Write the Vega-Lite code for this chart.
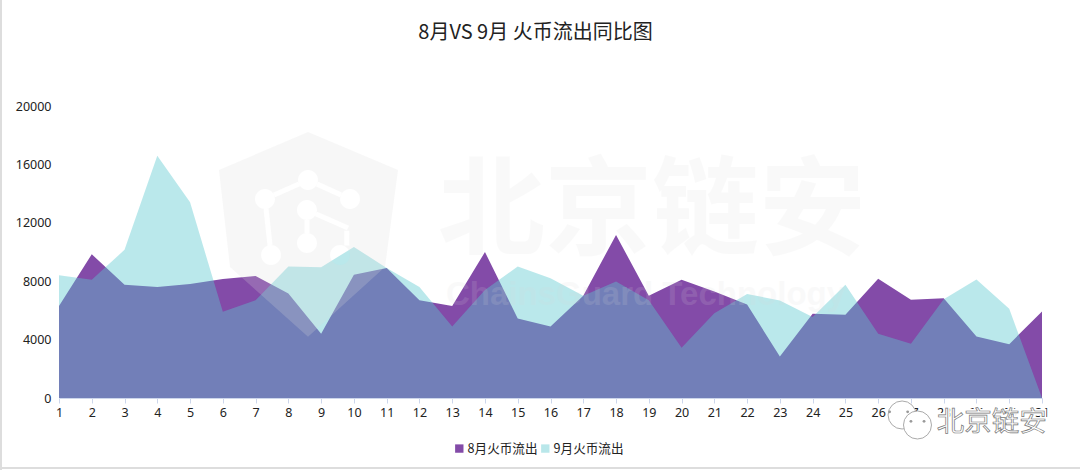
{
"$schema":"https://vega.github.io/schema/vega-lite/v6.json",
"width":983,"height":292,"autosize":"none",
"padding":{"left":59,"top":106,"right":38,"bottom":72},
"background":"#ffffff",
"title":{"text":"8月VS 9月 火币流出同比图","font":"Noto Sans CJK SC","fontSize":20,"fontWeight":"normal","color":"#222222","anchor":"middle","dx":-15,"offset":-44},
"config":{"view":{"stroke":null},"font":"Noto Sans CJK SC"},
"encoding":{
"x":{"field":"day","type":"quantitative","scale":{"domain":[1,31],"nice":false,"zero":false},"axis":{"values":[1,2,3,4,5,6,7,8,9,10,11,12,13,14,15,16,17,18,19,20,21,22,23,24,25,26,27,28,29,30,31],"format":"d","title":null,"grid":false,"domainColor":"#ccd6eb","tickColor":"#ccd6eb","tickSize":5,"labelFontSize":12.5,"labelColor":"#222222","labelPadding":3,"labelFont":"Noto Sans","labelFlush":false,"labelOverlap":false}},
"y":{"field":"value","type":"quantitative","stack":null,"scale":{"domain":[0,20000],"nice":false},"axis":{"values":[0,4000,8000,12000,16000,20000],"format":"d","title":null,"grid":false,"domain":false,"ticks":false,"labelFontSize":12.5,"labelColor":"#222222","labelPadding":8,"labelFont":"Noto Sans"}}
},
"layer":[
{"data":{"values":[
{"day":1,"value":6300,"series":"8月火币流出"},{"day":2,"value":9850,"series":"8月火币流出"},{"day":3,"value":7750,"series":"8月火币流出"},{"day":4,"value":7600,"series":"8月火币流出"},{"day":5,"value":7800,"series":"8月火币流出"},{"day":6,"value":8150,"series":"8月火币流出"},{"day":7,"value":8350,"series":"8月火币流出"},{"day":8,"value":7150,"series":"8月火币流出"},{"day":9,"value":4400,"series":"8月火币流出"},{"day":10,"value":8450,"series":"8月火币流出"},{"day":11,"value":8900,"series":"8月火币流出"},{"day":12,"value":6700,"series":"8月火币流出"},{"day":13,"value":6300,"series":"8月火币流出"},{"day":14,"value":10000,"series":"8月火币流出"},{"day":15,"value":5450,"series":"8月火币流出"},{"day":16,"value":4900,"series":"8月火币流出"},{"day":17,"value":7000,"series":"8月火币流出"},{"day":18,"value":11170,"series":"8月火币流出"},{"day":19,"value":7000,"series":"8月火币流出"},{"day":20,"value":8100,"series":"8月火币流出"},{"day":21,"value":7300,"series":"8月火币流出"},{"day":22,"value":6400,"series":"8月火币流出"},{"day":23,"value":2850,"series":"8月火币流出"},{"day":24,"value":5770,"series":"8月火币流出"},{"day":25,"value":5700,"series":"8月火币流出"},{"day":26,"value":8160,"series":"8月火币流出"},{"day":27,"value":6730,"series":"8月火币流出"},{"day":28,"value":6840,"series":"8月火币流出"},{"day":29,"value":4220,"series":"8月火币流出"},{"day":30,"value":3690,"series":"8月火币流出"},{"day":31,"value":5930,"series":"8月火币流出"},
{"day":1,"value":8400,"series":"9月火币流出"},{"day":2,"value":8100,"series":"9月火币流出"},{"day":3,"value":10150,"series":"9月火币流出"},{"day":4,"value":16600,"series":"9月火币流出"},{"day":5,"value":13400,"series":"9月火币流出"},{"day":6,"value":5900,"series":"9月火币流出"},{"day":7,"value":6700,"series":"9月火币流出"},{"day":8,"value":9000,"series":"9月火币流出"},{"day":9,"value":8950,"series":"9月火币流出"},{"day":10,"value":10350,"series":"9月火币流出"},{"day":11,"value":8900,"series":"9月火币流出"},{"day":12,"value":7600,"series":"9月火币流出"},{"day":13,"value":4900,"series":"9月火币流出"},{"day":14,"value":7400,"series":"9月火币流出"},{"day":15,"value":9000,"series":"9月火币流出"},{"day":16,"value":8200,"series":"9月火币流出"},{"day":17,"value":7000,"series":"9月火币流出"},{"day":18,"value":7980,"series":"9月火币流出"},{"day":19,"value":6700,"series":"9月火币流出"},{"day":20,"value":3450,"series":"9月火币流出"},{"day":21,"value":5800,"series":"9月火币流出"},{"day":22,"value":7130,"series":"9月火币流出"},{"day":23,"value":6680,"series":"9月火币流出"},{"day":24,"value":5540,"series":"9月火币流出"},{"day":25,"value":7750,"series":"9月火币流出"},{"day":26,"value":4400,"series":"9月火币流出"},{"day":27,"value":3720,"series":"9月火币流出"},{"day":28,"value":6770,"series":"9月火币流出"},{"day":29,"value":8120,"series":"9月火币流出"},{"day":30,"value":6110,"series":"9月火币流出"},{"day":31,"value":0,"series":"9月火币流出"}
]},
"mark":{"type":"area","interpolate":"linear"},
"encoding":{
"color":{"field":"series","type":"nominal","scale":{"domain":["8月火币流出","9月火币流出"],"range":["#834ba8","#5ac8cf"]},"legend":{"title":null,"orient":"none","direction":"horizontal","legendX":394,"legendY":336,"symbolType":"square","symbolSize":70,"labelFontSize":12.6,"labelColor":"#222222","labelFont":"Noto Sans CJK SC","labelOffset":2,"columnPadding":0}},
"opacity":{"field":"series","type":"nominal","scale":{"domain":["8月火币流出","9月火币流出"],"range":[1,0.42]}}
}},
{"data":{"values":[{"day":8.6,"value":11164}]},
"mark":{"type":"point","filled":true,"color":"#dadada","opacity":0.22,"size":44100,"shape":"M0,-.98 L.857,-.62 L.733,.305 L0,.97 L-.743,.305 L-.848,-.62 Z M-.095,-.524 A.095,.095 0 1 0 .095,-.524 A.095,.095 0 1 0 -.095,-.524 Z M-.505,-.343 A.095,.095 0 1 0 -.315,-.343 A.095,.095 0 1 0 -.505,-.343 Z M.305,-.343 A.095,.095 0 1 0 .495,-.343 A.095,.095 0 1 0 .305,-.343 Z M-.105,-.238 A.095,.095 0 1 0 .085,-.238 A.095,.095 0 1 0 -.105,-.238 Z M-.105,.076 A.095,.095 0 1 0 .085,.076 A.095,.095 0 1 0 -.105,.076 Z M-.447,.19 A.095,.095 0 1 0 -.257,.19 A.095,.095 0 1 0 -.447,.19 Z M.21,.19 A.095,.095 0 1 0 .4,.19 A.095,.095 0 1 0 .21,.19 Z M-.077,-.464 L-.097,-.508 L-.333,-.403 L-.313,-.359 Z M.097,-.507 L.077,-.463 L.303,-.36 L.323,-.404 Z M-.376,-.252 L-.424,-.246 L-.386,.099 L-.338,.093 Z M.014,-.143 L-.034,-.143 L-.034,-.019 L.014,-.019 Z M.087,-.222 L.067,-.178 L.371,-.045 L.391,-.089 Z M.393,-.04 L.345,-.04 L.345,.1 L.393,.1 Z"}},
{"data":{"values":[{"day":19.1,"value":12600,"label":"北京链安"}]},
"mark":{"type":"text","font":"Noto Sans CJK SC","fontSize":107,"fontWeight":"bold","color":"#dadada","opacity":0.14,"align":"center","baseline":"middle"},
"encoding":{"text":{"field":"label","type":"nominal"}}},
{"data":{"values":[{"day":18.9,"value":7055,"label":"ChainsGuard Technology"}]},
"mark":{"type":"text","font":"Liberation Sans","fontSize":33,"fontWeight":"bold","color":"#dadada","opacity":0.14,"align":"center","baseline":"middle"},
"encoding":{"text":{"field":"label","type":"nominal"}}},
{"data":{"values":[{"day":-0.77,"value":27260,"value2":-4930}]},
"mark":{"type":"rule","color":"#dddddd","strokeWidth":2},
"encoding":{"y2":{"field":"value2"}}},
{"data":{"values":[{"day":-0.8,"day2":32.2,"value":-4800}]},
"mark":{"type":"rule","color":"#dddddd","strokeWidth":2},
"encoding":{"x2":{"field":"day2"}}},
{"data":{"values":[{"day":26.73,"value":-1164},{"day":27.2,"value":-1849}]},
"mark":{"type":"point","shape":"circle","filled":true,"fill":"#ffffff","stroke":"#aaaaaa","strokeWidth":1,"opacity":1,"size":784}},
{"data":{"values":[{"day":26.35,"value":-950},{"day":26.9,"value":-950},{"day":27.0,"value":-1600},{"day":27.4,"value":-1600}]},
"mark":{"type":"point","shape":"circle","filled":true,"color":"#999999","opacity":1,"size":8}},
{"data":{"values":[{"day":29.47,"value":-1712,"label":"北京链安"}]},
"mark":{"type":"text","font":"Noto Sans CJK SC","fontSize":27.5,"color":"#ffffff","stroke":"#ffffff","strokeWidth":4,"align":"center","baseline":"middle"},
"encoding":{"text":{"field":"label","type":"nominal"}}},
{"data":{"values":[{"day":29.47,"value":-1712,"label":"北京链安"}]},
"mark":{"type":"text","font":"Noto Sans CJK SC","fontSize":27.5,"color":"#ffffff","stroke":"#777777","strokeWidth":0.7,"align":"center","baseline":"middle"},
"encoding":{"text":{"field":"label","type":"nominal"}}}
]
}
